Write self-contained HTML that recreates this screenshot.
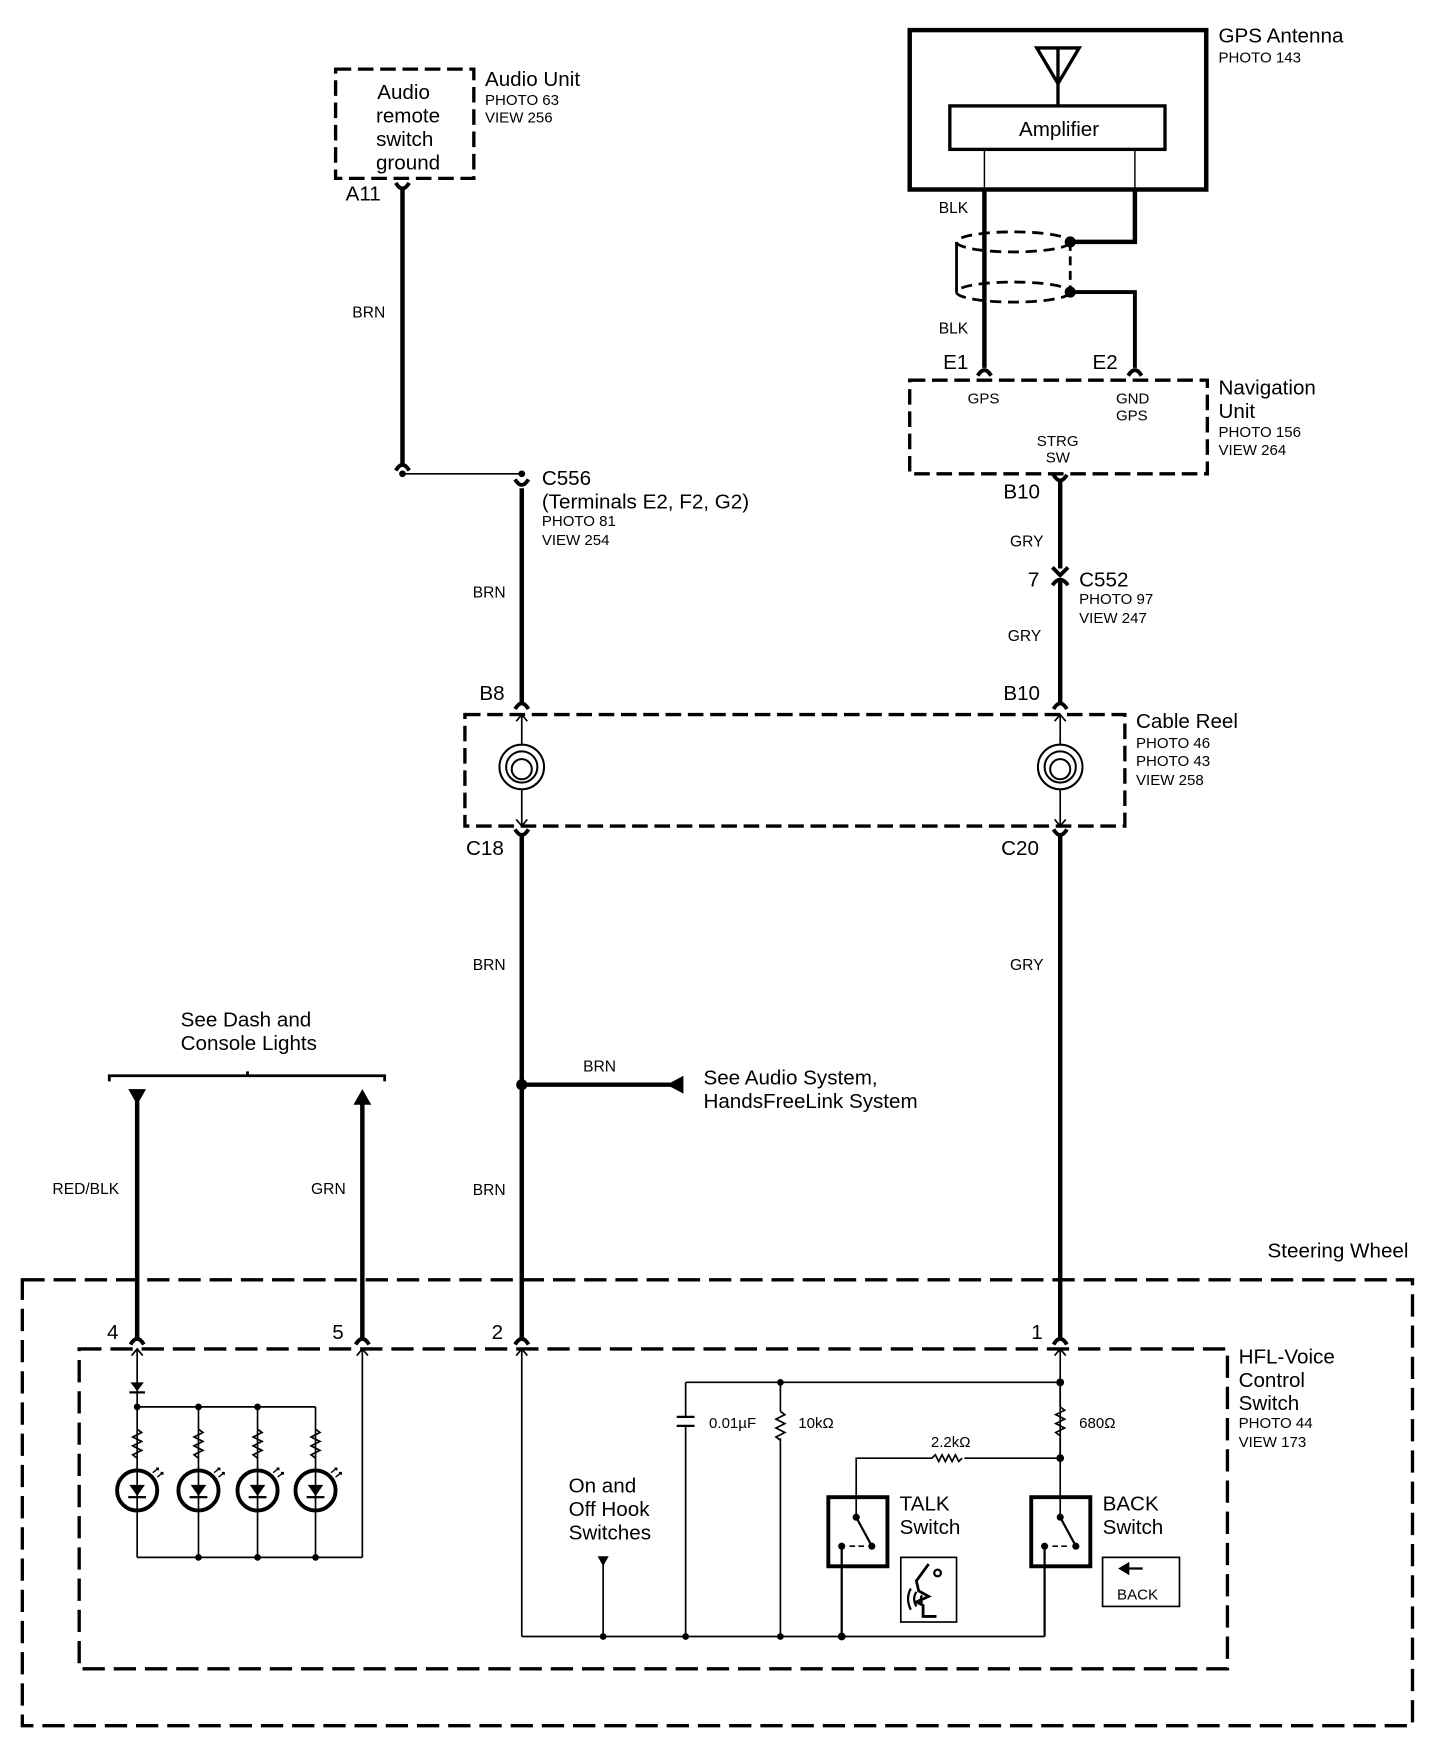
<!DOCTYPE html>
<html><head><meta charset="utf-8"><style>
html,body{margin:0;padding:0;background:#fff;}
svg{display:block;}
text{font-family:"Liberation Sans",Arial,sans-serif;fill:#000;}
.b{font-size:18.5px;}
.s{font-size:13.5px;}
.w{font-size:14px;}
</style></head><body>
<svg width="1456" height="1748" viewBox="0 0 1306 1568" xmlns="http://www.w3.org/2000/svg">
<defs>
<g id="cin"><path d="M-6,6 Q0,-4 6,6" fill="none" stroke="#000" stroke-width="3.5"/></g>
<g id="cout"><path d="M-6,-6 Q0,4 6,-6" fill="none" stroke="#000" stroke-width="3.5"/></g>
<g id="tup"><path d="M-5,6 L0,0 L5,6" fill="none" stroke="#000" stroke-width="1.5"/></g>
<g id="tdn"><path d="M-5,-6 L0,0 L5,-6" fill="none" stroke="#000" stroke-width="1.5"/></g>
<g id="res"><path d="M0,0 l4,3 l-8,4 l8,4 l-8,4 l8,4 l-8,4 l4,3" fill="none" stroke="#000" stroke-width="1.5"/></g>
</defs>
<g fill="none" stroke="#000">
<rect x="301" y="62" width="124" height="98" stroke-width="3" stroke-dasharray="14,6"/>
<line x1="361" y1="168" x2="361" y2="417" stroke-width="4"/>
<line x1="361" y1="425" x2="468" y2="425" stroke-width="1.5"/>
<line x1="468" y1="438" x2="468" y2="630" stroke-width="4"/>
<rect x="417" y="641" width="592" height="100" stroke-width="3" stroke-dasharray="14,6"/>
<line x1="468" y1="641" x2="468" y2="741" stroke-width="1.5"/>
<line x1="951" y1="641" x2="951" y2="741" stroke-width="1.5"/>
<circle cx="468" cy="688" r="20" stroke-width="1.8" fill="#fff"/><circle cx="468" cy="688" r="14" stroke-width="1.8"/><circle cx="468" cy="690" r="9" stroke-width="1.8"/>
<circle cx="951" cy="688" r="20" stroke-width="1.8" fill="#fff"/><circle cx="951" cy="688" r="14" stroke-width="1.8"/><circle cx="951" cy="690" r="9" stroke-width="1.8"/>
<line x1="468" y1="748" x2="468" y2="1200" stroke-width="4"/>
<line x1="951" y1="748" x2="951" y2="1200" stroke-width="4"/>
<line x1="468" y1="973" x2="602" y2="973" stroke-width="4"/>
<rect x="816" y="27" width="266" height="143" stroke-width="4"/>
<rect x="852" y="95" width="193" height="39" stroke-width="3"/>
<path d="M930,43 L968,43 L949,75 Z M949,43 L949,95" stroke-width="3"/>
<line x1="883" y1="134" x2="883" y2="170" stroke-width="1.3"/>
<line x1="1018" y1="134" x2="1018" y2="170" stroke-width="1.3"/>
<line x1="883" y1="170" x2="883" y2="330" stroke-width="4"/>
<path d="M1018,170 L1018,217 L963,217" stroke-width="4"/>
<path d="M963,262 L1018,262 L1018,330" stroke-width="3.5"/>
<ellipse cx="909" cy="217" rx="51" ry="9" stroke-width="2.5" stroke-dasharray="10,6"/>
<ellipse cx="909" cy="262" rx="51" ry="9" stroke-width="2.5" stroke-dasharray="10,6"/>
<line x1="858" y1="217" x2="858" y2="262" stroke-width="2.5"/>
<line x1="960" y1="217" x2="960" y2="262" stroke-width="2.5" stroke-dasharray="8,5"/>
<rect x="816" y="341" width="267" height="84" stroke-width="3" stroke-dasharray="14,6"/>
<line x1="951" y1="432" x2="951" y2="510" stroke-width="4"/>
<line x1="951" y1="520" x2="951" y2="630" stroke-width="4"/>
<path d="M98,970 L98,965 L345,965 L345,970 M222,965 L222,961" stroke-width="2.5"/>
<line x1="123" y1="988" x2="123" y2="1200" stroke-width="4"/>
<line x1="325" y1="988" x2="325" y2="1200" stroke-width="4"/>
<rect x="20" y="1148" width="1247" height="400" stroke-width="3" stroke-dasharray="20,8"/>
<rect x="71" y="1210" width="1030" height="287" stroke-width="3" stroke-dasharray="20,8"/>
<line x1="123" y1="1210" x2="123" y2="1262" stroke-width="1.5"/>
<line x1="123" y1="1262" x2="283" y2="1262" stroke-width="1.5"/>
<line x1="325" y1="1210" x2="325" y2="1397" stroke-width="1.5"/>
<line x1="123" y1="1397" x2="325" y2="1397" stroke-width="1.5"/>
<g stroke-width="1.5">
<line x1="123" y1="1262" x2="123" y2="1397"/><line x1="178" y1="1262" x2="178" y2="1397"/>
<line x1="231" y1="1262" x2="231" y2="1397"/><line x1="283" y1="1262" x2="283" y2="1397"/>
</g>
<g fill="#fff" stroke-width="3.5">
<circle cx="123" cy="1337" r="18"/><circle cx="178" cy="1337" r="18"/><circle cx="231" cy="1337" r="18"/><circle cx="283" cy="1337" r="18"/>
</g>
<line x1="123" y1="1319" x2="123" y2="1355" stroke-width="1.5"/><line x1="178" y1="1319" x2="178" y2="1355" stroke-width="1.5"/>
<line x1="231" y1="1319" x2="231" y2="1355" stroke-width="1.5"/><line x1="283" y1="1319" x2="283" y2="1355" stroke-width="1.5"/>
<line x1="468" y1="1210" x2="468" y2="1468" stroke-width="1.5"/>
<line x1="468" y1="1468" x2="937" y2="1468" stroke-width="1.5"/>
<line x1="615" y1="1240" x2="951" y2="1240" stroke-width="1.5"/>
<line x1="951" y1="1210" x2="951" y2="1361" stroke-width="1.5"/>
<line x1="615" y1="1240" x2="615" y2="1271" stroke-width="1.5"/>
<line x1="615" y1="1279" x2="615" y2="1468" stroke-width="1.5"/>
<path d="M607,1271 L623,1271 M607,1279 L623,1279" stroke-width="2"/>
<line x1="700" y1="1240" x2="700" y2="1266" stroke-width="1.5"/>
<line x1="700" y1="1290" x2="700" y2="1468" stroke-width="1.5"/>
<line x1="951" y1="1240" x2="951" y2="1262" stroke-width="1.5"/>
<path d="M768,1361 L768,1308 L836,1308 M865,1308 L951,1308" stroke-width="1.5"/>
<path d="M836,1308 l3,-3 l3,6 l3,-6 l3,6 l3,-6 l3,6 l3,-6 l3,6 l3,-3" stroke-width="1.5"/>
<line x1="541" y1="1403" x2="541" y2="1468" stroke-width="1.5"/>
<rect x="743" y="1343" width="53" height="62" stroke-width="3.5"/>
<rect x="925" y="1343" width="53" height="62" stroke-width="3.5"/>
<path d="M768,1361 L781,1385 M755,1387 L755,1468 M937,1387 L937,1468 M951,1361 L964,1385" stroke-width="2"/>
<path d="M762,1387 L776,1387 M944,1387 L958,1387" stroke-width="1.5" stroke-dasharray="5,3"/>
<rect x="808" y="1397" width="50" height="58" stroke-width="1.5"/>
<rect x="989" y="1397" width="69" height="44" stroke-width="1.5"/>
<path d="M1005,1407 L1025,1407" stroke-width="2"/>
<path d="M833,1403 L822,1418 L824,1427 L833,1432 L822,1437 L828,1440 L828,1450 L840,1450" stroke-width="2.5"/>
<circle cx="841" cy="1411" r="3" stroke-width="2"/>
<path d="M817,1425 Q812,1434 817,1444 M822,1428 Q818,1434 822,1441 M827,1431 Q825,1434 827,1438" stroke-width="2"/>
</g>
<use href="#res" x="123" y="1282"/><use href="#res" x="178" y="1282"/><use href="#res" x="231" y="1282"/><use href="#res" x="283" y="1282"/>
<use href="#res" x="700" y="1266"/><use href="#res" x="951" y="1262"/>
<line x1="951" y1="1290" x2="951" y2="1308" stroke="#000" stroke-width="1.5"/>
<g fill="#000">
<path d="M117,1240 L129,1240 L123,1248 Z"/><rect x="116" y="1248" width="14" height="2"/>
<path d="M116,1332 L130,1332 L123,1342 Z"/><rect x="115" y="1342" width="16" height="2"/>
<path d="M171,1332 L185,1332 L178,1342 Z"/><rect x="170" y="1342" width="16" height="2"/>
<path d="M224,1332 L238,1332 L231,1342 Z"/><rect x="223" y="1342" width="16" height="2"/>
<path d="M276,1332 L290,1332 L283,1342 Z"/><rect x="275" y="1342" width="16" height="2"/>
<circle cx="123" cy="1262" r="3"/><circle cx="178" cy="1262" r="3"/><circle cx="231" cy="1262" r="3"/>
<circle cx="178" cy="1397" r="3"/><circle cx="231" cy="1397" r="3"/><circle cx="283" cy="1397" r="3"/>
<circle cx="951" cy="1240" r="3.5"/><circle cx="951" cy="1308" r="3.5"/><circle cx="700" cy="1240" r="3"/>
<circle cx="541" cy="1468" r="3"/><circle cx="615" cy="1468" r="3"/><circle cx="700" cy="1468" r="3"/><circle cx="755" cy="1468" r="3.5"/>
<circle cx="768" cy="1361" r="3.2"/><circle cx="782" cy="1387" r="3.2"/><circle cx="755" cy="1387" r="3.2"/>
<circle cx="951" cy="1361" r="3.2"/><circle cx="965" cy="1387" r="3.2"/><circle cx="937" cy="1387" r="3.2"/>
<circle cx="361" cy="425" r="3"/><circle cx="468" cy="425" r="3"/>
<circle cx="468" cy="973" r="5"/>
<circle cx="960" cy="217" r="5"/><circle cx="960" cy="262" r="5"/>
<path d="M598,973 L613,965 L613,981 Z"/>
<path d="M115,977 L131,977 L123,991 Z"/>
<path d="M317,991 L333,991 L325,977 Z"/>
<path d="M536,1396 L546,1396 L541,1405 Z"/>
<path d="M1003,1407 L1013,1401 L1013,1413 Z"/>
</g>
<g fill="none" stroke="#000" stroke-width="1.3">
<path d="M137,1321 l5,-4 m-2,0 l2,0 l0,2 M141,1325 l5,-4 m-2,0 l2,0 l0,2"/>
<path d="M192,1321 l5,-4 m-2,0 l2,0 l0,2 M196,1325 l5,-4 m-2,0 l2,0 l0,2"/>
<path d="M245,1321 l5,-4 m-2,0 l2,0 l0,2 M249,1325 l5,-4 m-2,0 l2,0 l0,2"/>
<path d="M297,1321 l5,-4 m-2,0 l2,0 l0,2 M301,1325 l5,-4 m-2,0 l2,0 l0,2"/>
</g>
<use href="#cout" x="361" y="170"/><use href="#cin" x="361" y="416"/>
<use href="#cout" x="468" y="436"/>
<use href="#cin" x="468" y="630"/><use href="#tup" x="468" y="641"/>
<use href="#tdn" x="468" y="741"/><use href="#cout" x="468" y="750"/>
<use href="#cin" x="951" y="630"/><use href="#tup" x="951" y="641"/>
<use href="#tdn" x="951" y="741"/><use href="#cout" x="951" y="750"/>
<use href="#cin" x="883" y="331"/><use href="#cin" x="1018" y="331"/>
<use href="#cout" x="951" y="432"/>
<path d="M944,509 L951,516 L958,509 M944,525 Q951,515 958,525" fill="none" stroke="#000" stroke-width="3.5"/>
<use href="#cin" x="123" y="1200"/><use href="#tup" x="123" y="1210"/>
<use href="#cin" x="325" y="1200"/><use href="#tup" x="325" y="1210"/>
<use href="#cin" x="468" y="1200"/><use href="#tup" x="468" y="1210"/>
<use href="#cin" x="951" y="1200"/><use href="#tup" x="951" y="1210"/>
<g class="b" text-anchor="middle"><text x="362" y="89">Audio</text><text x="366" y="110">remote</text><text x="363" y="131">switch</text><text x="366" y="152">ground</text></g>
<text class="b" x="435" y="77">Audio Unit</text><text class="s" x="435" y="94">PHOTO 63</text><text class="s" x="435" y="110">VIEW 256</text>
<text class="b" x="310" y="180">A11</text>
<text class="w" x="316" y="285">BRN</text>
<text class="b" x="486" y="435">C556</text><text class="b" x="486" y="456">(Terminals E2, F2, G2)</text>
<text class="s" x="486" y="472">PHOTO 81</text><text class="s" x="486" y="489">VIEW 254</text>
<text class="w" x="424" y="536">BRN</text>
<text class="b" x="430" y="628">B8</text>
<text class="b" x="1019" y="653">Cable Reel</text><text class="s" x="1019" y="671">PHOTO 46</text><text class="s" x="1019" y="687">PHOTO 43</text><text class="s" x="1019" y="704">VIEW 258</text>
<text class="b" x="418" y="767">C18</text><text class="b" x="898" y="767">C20</text>
<text class="w" x="424" y="870">BRN</text><text class="w" x="906" y="870">GRY</text>
<text class="w" x="523" y="961">BRN</text>
<text class="b" x="631" y="973">See Audio System,</text><text class="b" x="631" y="994">HandsFreeLink System</text>
<text class="w" x="424" y="1072">BRN</text>
<text class="b" x="1093" y="38">GPS Antenna</text><text class="s" x="1093" y="56">PHOTO 143</text>
<text class="b" x="914" y="122">Amplifier</text>
<text class="w" x="842" y="191">BLK</text><text class="w" x="842" y="299">BLK</text>
<text class="b" x="846" y="331">E1</text><text class="b" x="980" y="331">E2</text>
<text class="s" x="868" y="362">GPS</text><text class="s" x="1001" y="362">GND</text><text class="s" x="1001" y="377">GPS</text>
<text class="s" x="930" y="400">STRG</text><text class="s" x="938" y="415">SW</text>
<text class="b" x="1093" y="354">Navigation</text><text class="b" x="1093" y="375">Unit</text><text class="s" x="1093" y="392">PHOTO 156</text><text class="s" x="1093" y="408">VIEW 264</text>
<text class="b" x="900" y="447">B10</text>
<text class="w" x="906" y="490">GRY</text>
<text class="b" x="922" y="526">7</text><text class="b" x="968" y="526">C552</text>
<text class="s" x="968" y="542">PHOTO 97</text><text class="s" x="968" y="559">VIEW 247</text>
<text class="w" x="904" y="575">GRY</text>
<text class="b" x="900" y="628">B10</text>
<text class="b" x="162" y="921">See Dash and</text><text class="b" x="162" y="942">Console Lights</text>
<text class="w" x="47" y="1071">RED/BLK</text><text class="w" x="279" y="1071">GRN</text>
<text class="b" x="1137" y="1128">Steering Wheel</text>
<text class="b" x="96" y="1201">4</text><text class="b" x="298" y="1201">5</text><text class="b" x="441" y="1201">2</text><text class="b" x="925" y="1201">1</text>
<text class="b" x="1111" y="1223">HFL-Voice</text><text class="b" x="1111" y="1244">Control</text><text class="b" x="1111" y="1265">Switch</text>
<text class="s" x="1111" y="1281">PHOTO 44</text><text class="s" x="1111" y="1298">VIEW 173</text>
<text class="s" x="636" y="1281">0.01µF</text><text class="s" x="716" y="1281">10kΩ</text><text class="s" x="968" y="1281">680Ω</text>
<text class="s" x="835" y="1298">2.2kΩ</text>
<text class="b" x="510" y="1339">On and</text><text class="b" x="510" y="1360">Off Hook</text><text class="b" x="510" y="1381">Switches</text>
<text class="b" x="807" y="1355">TALK</text><text class="b" x="807" y="1376">Switch</text>
<text class="b" x="989" y="1355">BACK</text><text class="b" x="989" y="1376">Switch</text>
<text class="s" x="1002" y="1435">BACK</text>
</svg>
</body></html>
